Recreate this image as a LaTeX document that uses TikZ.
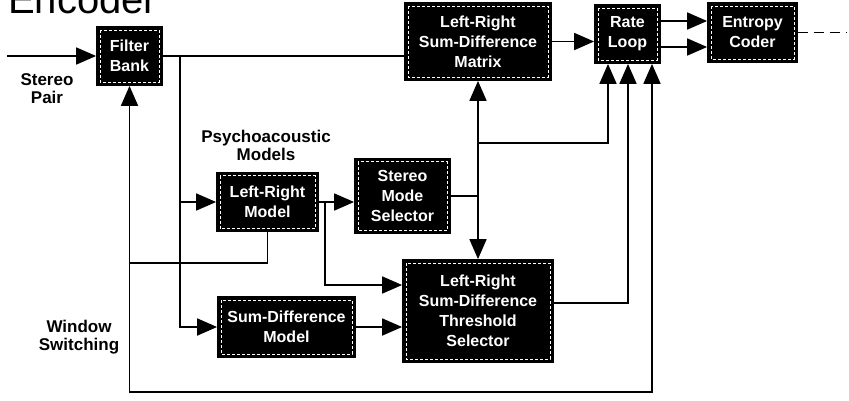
\documentclass[tikz,border=0pt]{standalone}
\usepackage{fontspec}
\setmainfont{Liberation Sans}
\usetikzlibrary{arrows.meta}

\begin{document}
\begin{tikzpicture}[x=1pt, y=-1pt, line width=1.8pt,
	block/.style={fill=black, draw=black, text=white, align=center, inner sep=2pt,
		font=\fontsize{16}{20}\selectfont\bfseries,
		path picture={\draw[white, line width=0.6pt, dash pattern=on 3pt off 2pt]
			([shift={(3pt,-3pt)}]path picture bounding box.north west) rectangle
			([shift={(-3pt,3pt)}]path picture bounding box.south east);}},
	lbl/.style={align=center, font=\fontsize{17}{18}\selectfont\bfseries},
	arr/.style={-{Triangle[length=20pt,width=17pt]}}]
		\useasboundingbox (0,0) rectangle (849,400);
		\clip (0,0) rectangle (849,400);
		
		\node[anchor=base west, font=\fontsize{40}{44}\selectfont] (title) at (4,13) {Encoder};
		
		\node[block, minimum width=65pt, minimum height=58pt] (bank) at (129.5,56) {Filter\\Bank};
		\node[block, minimum width=146pt, minimum height=77pt] (sdmatrix) at (478,41.5) {Left-Right\\Sum-Difference\\Matrix};
		\node[block, minimum width=65pt, minimum height=58pt] (rate) at (627.5,34) {Rate\\Loop};
		\node[block, minimum width=89pt, minimum height=59pt] (coder) at (752.5,32.5) {Entropy\\Coder};
		
		\node[block, minimum width=101pt, minimum height=59pt] (lrmodel) at (267.5,202) {Left-Right\\Model};
		\node[block, minimum width=95pt, minimum height=75pt] (modesel) at (402.5,196) {Stereo\\Mode\\Selector};
		\node[block, minimum width=137pt, minimum height=60pt] (sdmodel) at (286.5,327) {Sum-Difference\\Model};
		\node[block, minimum width=150pt, minimum height=102pt] (thresh) at (478,311) {Left-Right\\Sum-Difference\\Threshold\\Selector};
		
		\node[lbl] (pairlbl) at (47,89) {Stereo\\Pair};
		\node[lbl] (pmlbl) at (266,145) {Psychoacoustic\\Models};
		\node[lbl] (wslbl) at (79,337) {Window\\Switching};
		
		\coordinate (in) at (7,56);
		\coordinate (out) at (846,32.5);
		\coordinate (split1) at (180,56);
		\coordinate (split2) at (325,202);
		\coordinate (split3) at (478,196);
		\coordinate (split4) at (478,143);
		\coordinate (ws) at (bank.south |- 0,263);
		\coordinate (wsbot) at (bank.south |- 0,392);
		\coordinate (rl1) at ([xshift=-19.5pt]rate.south);
		\coordinate (rl2) at ([xshift=0.5pt]rate.south);
		\coordinate (rl3) at ([xshift=24.5pt]rate.south);
		\coordinate (rc1) at ([yshift=13pt]rate.east);
		\coordinate (rc2) at ([yshift=-13pt]rate.east);
		
		\draw[arr] (in) -- (bank.west);
		\draw (bank.east) -- (bank.east -| sdmatrix.west);
		\draw[arr] (split1) |- (sdmodel.west);
		\draw[arr] (split1 |- lrmodel.west) -- (lrmodel.west);
		
		\draw[arr] (sdmatrix.east) -- (sdmatrix.east -| rate.west);
		\draw[arr] (rc1) -- (rc1 -| coder.west);
		\draw[arr] (rc2) -- (rc2 -| coder.west);
		\draw[dash pattern=on 10pt off 6pt] (coder.east) -- (out);
		
		\draw[arr] (lrmodel.east) -- (lrmodel.east -| modesel.west);
		\draw[arr] (split2) |- ([yshift=26pt]thresh.west);
		\draw[arr] (sdmodel.east) -- (sdmodel.east -| thresh.west);
		
		\draw (modesel.east) -- (split3);
		\draw[arr] (split3) -- (sdmatrix.south);
		\draw[arr] (split3) -- (thresh.north);
		\draw[arr] (split4) -| (rl1);
		\draw[arr] ([yshift=8pt]thresh.east) -| (rl2);
		
		\draw (lrmodel.south) |- (ws);
		\draw[arr] (ws) -- (bank.south);
		\draw[arr] (ws) -- (wsbot) -| (rl3);
		\end{tikzpicture}
\end{document}
